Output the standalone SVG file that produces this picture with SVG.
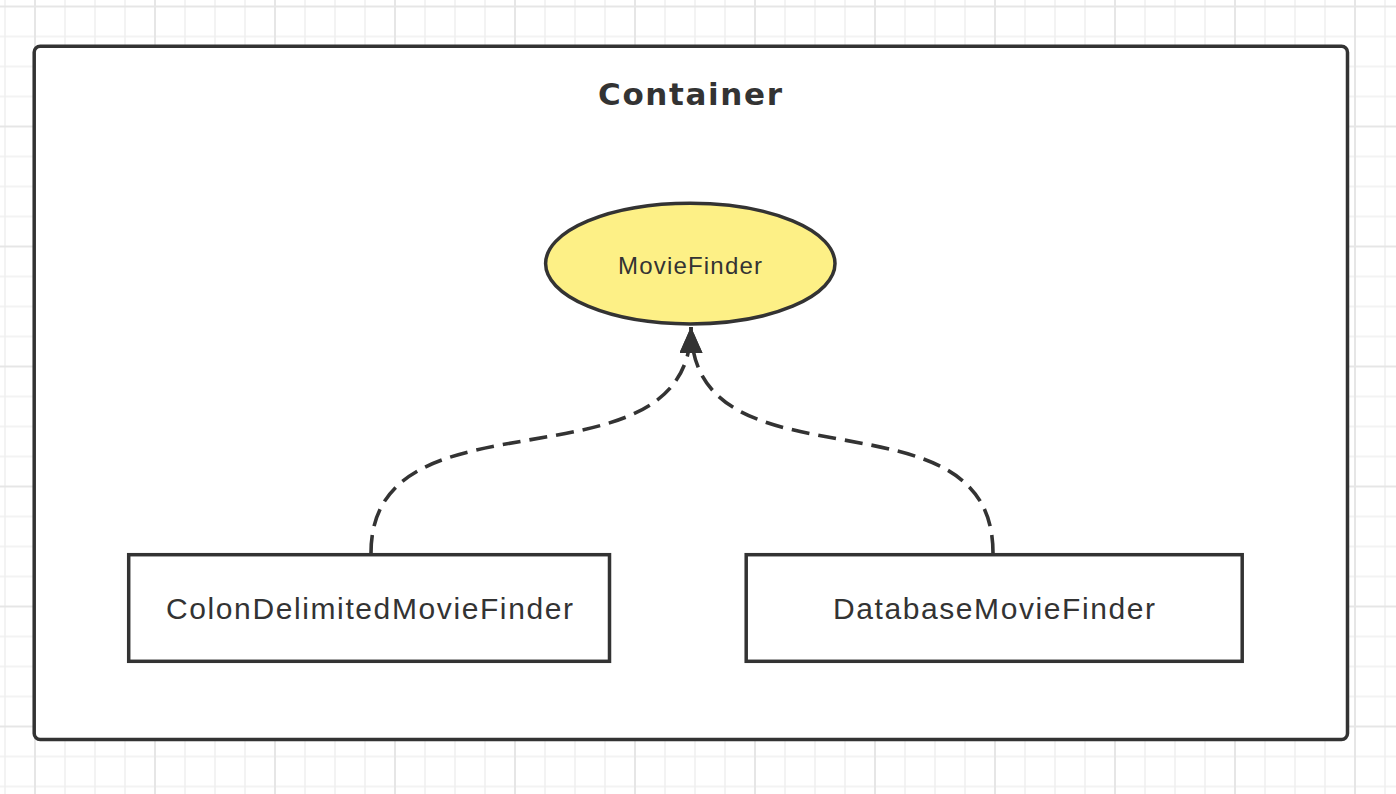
<svg xmlns="http://www.w3.org/2000/svg" width="1396" height="794" viewBox="0 0 1396 794">
  <style>
    .box { fill: #ffffff; stroke: #333333; stroke-width: 3.5; }
    .conn { fill: none; stroke: #333333; stroke-width: 3.6; stroke-dasharray: 18 9; }
    .label { font-family: "Liberation Sans", Arial, sans-serif; fill: #333333; text-anchor: middle; }
    .title { font-family: "DejaVu Sans", "Liberation Sans", sans-serif; font-weight: bold; fill: #333333; text-anchor: middle; }
    .gthin { stroke: #efefef; stroke-width: 1.5; }
    .gthick { stroke: #e6e6e6; stroke-width: 2; }
  </style>
  <defs>
    <pattern id="grid" patternUnits="userSpaceOnUse" x="-10" y="-8.5" width="120" height="120">
      <line class="gthin" x1="15" y1="0" x2="15" y2="120"/>
      <line class="gthin" x1="75" y1="0" x2="75" y2="120"/>
      <line class="gthin" x1="105" y1="0" x2="105" y2="120"/>
      <line class="gthin" x1="0" y1="45" x2="120" y2="45"/>
      <line class="gthin" x1="0" y1="75" x2="120" y2="75"/>
      <line class="gthin" x1="0" y1="105" x2="120" y2="105"/>
      <line class="gthick" x1="45" y1="0" x2="45" y2="120"/>
      <line class="gthick" x1="0" y1="15" x2="120" y2="15"/>
    </pattern>
    <marker id="arrow" markerUnits="userSpaceOnUse" viewBox="0 0 26 23" markerWidth="26" markerHeight="23" refX="26" refY="11.5" orient="auto">
      <path d="M0,0 L26,11.5 L0,23 Z" fill="#333333"/>
    </marker>
  </defs>

  <rect x="0" y="0" width="1396" height="794" fill="#ffffff"/>
  <rect x="0" y="0" width="1396" height="794" fill="url(#grid)"/>

  <g id="container">
    <rect class="box" x="34.2" y="46.3" width="1313.3" height="693.2" rx="6" ry="6"/>
    <text class="title" x="690" y="105" font-size="31" textLength="184" lengthAdjust="spacing">Container</text>
  </g>

  <g id="connectors">
    <path class="conn" d="M371,553 C371,381 691,498 691,327" marker-end="url(#arrow)"/>
    <path class="conn" d="M993,553 C993,381 691,498 691,327" marker-end="url(#arrow)"/>
  </g>

  <g id="moviefinder">
    <ellipse cx="690.3" cy="263.6" rx="144.7" ry="60.3" fill="#fdf086" stroke="#333333" stroke-width="3.5"/>
    <text class="label" x="690" y="274.3" font-size="24" textLength="144" lengthAdjust="spacing">MovieFinder</text>
  </g>

  <g id="colon-delimited-movie-finder">
    <rect class="box" x="128.7" y="554.7" width="480.8" height="106.6"/>
    <text class="label" x="369.5" y="619.3" font-size="30" textLength="407" lengthAdjust="spacing">ColonDelimitedMovieFinder</text>
  </g>

  <g id="database-movie-finder">
    <rect class="box" x="746.2" y="554.7" width="496" height="106.6"/>
    <text class="label" x="994" y="619.3" font-size="30" textLength="322" lengthAdjust="spacing">DatabaseMovieFinder</text>
  </g>
</svg>
